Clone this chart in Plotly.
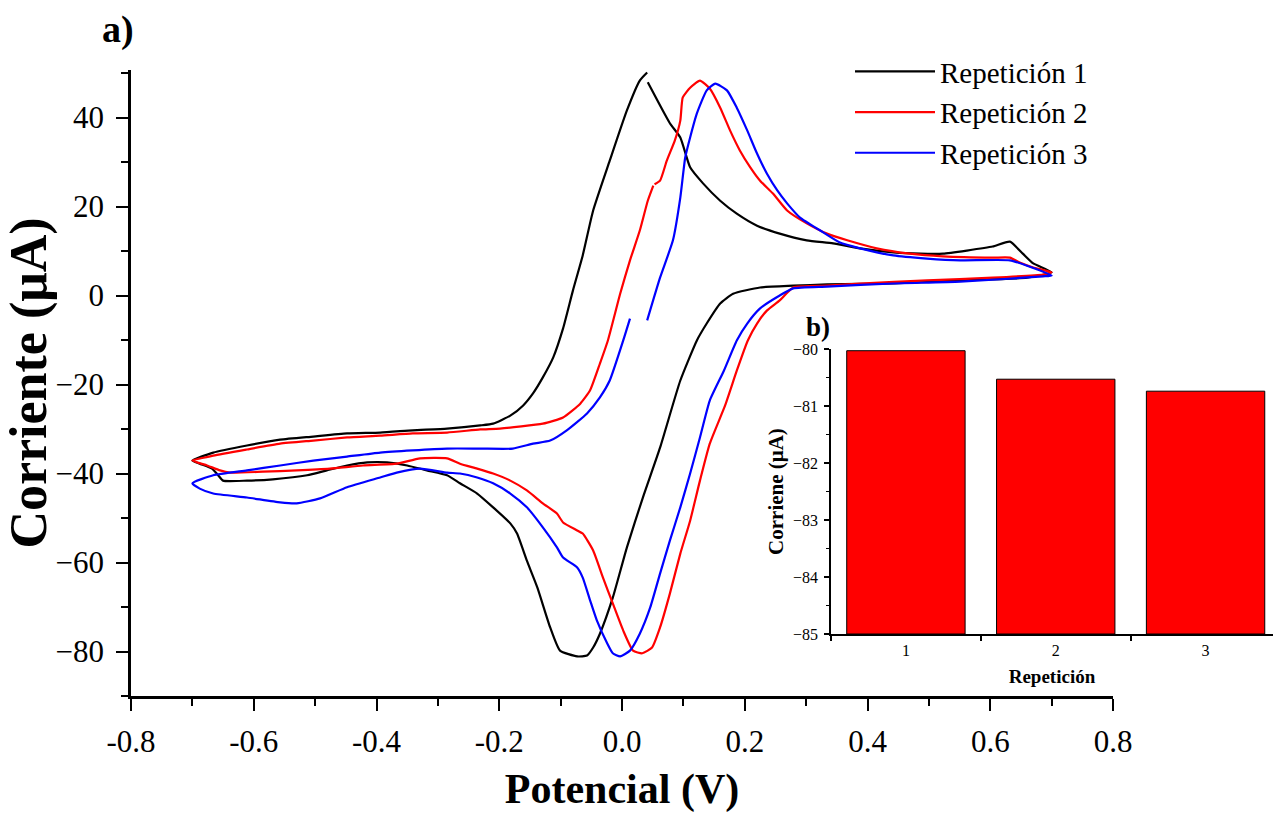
import plotly.graph_objects as go

# ---------------- data ----------------
V_rep1 = [0.042, 0.078, 0.095, 0.111, 0.132, 0.160, 0.187, 0.220, 0.257, 0.301, 0.344, 0.388, 0.442,
          0.486, 0.523, 0.562, 0.604, 0.632, 0.653, 0.670, 0.700,
          0.660, 0.551, 0.442, 0.334, 0.279, 0.225, 0.181, 0.160, 0.138, 0.122, 0.095, 0.062, 0.034,
          0.008, -0.015, -0.036, -0.047, -0.057, -0.073, -0.101, -0.117, -0.138, -0.155, -0.171,
          -0.182, -0.210, -0.236, -0.264, -0.285, -0.318, -0.350, -0.383, -0.415, -0.448, -0.481,
          -0.513, -0.569, -0.611, -0.650, -0.658, -0.668, -0.688, -0.700,
          -0.666, -0.611, -0.557, -0.503, -0.448, -0.394, -0.341, -0.285, -0.231, -0.210, -0.182,
          -0.161, -0.145, -0.129, -0.112, -0.096, -0.080, -0.064, -0.047, -0.020, 0.008, 0.029, 0.041]
I_rep1 = [47.9, 38.7, 35.5, 28.8, 25.2, 21.3, 18.4, 15.7, 13.9, 12.4, 11.7, 10.6, 9.7,
          9.4, 9.4, 10.1, 11.0, 12.1, 9.4, 7.2, 5.2,
          4.0, 3.4, 2.7, 2.5, 2.2, 1.8, 0.4, -1.8, -6.3, -10.1, -19.1, -34.2, -45.4,
          -56.6, -67.9, -76.0, -79.1, -80.9, -81.1, -79.8, -74.6, -65.6, -59.6, -53.5,
          -51.2, -47.6, -44.5, -42.2, -40.4, -39.3, -38.2, -37.5, -37.5, -38.2, -39.3,
          -40.4, -41.3, -41.6, -41.6, -40.4, -38.9, -37.8, -37.1,
          -35.3, -33.7, -32.4, -31.7, -31.0, -30.8, -30.3, -29.9, -29.2, -28.8, -27.0,
          -24.7, -22.0, -18.4, -13.9, -7.4, 1.1, 9.0, 19.1, 30.3, 41.6, 48.3, 50.1]

V_rep2 = [0.053, 0.062, 0.073, 0.086, 0.095, 0.099, 0.111, 0.127, 0.143, 0.160, 0.176, 0.192, 0.209, 0.225,
          0.246, 0.269, 0.301, 0.334, 0.367, 0.415, 0.469, 0.523, 0.604, 0.632, 0.648, 0.670, 0.700,
          0.686, 0.604, 0.497, 0.388, 0.334, 0.279, 0.257, 0.236, 0.220, 0.205, 0.187, 0.168, 0.143,
          0.127, 0.111, 0.095, 0.078, 0.062, 0.049, 0.033, 0.018, 0.002, -0.015, -0.031, -0.047,
          -0.064, -0.073, -0.096, -0.106, -0.129, -0.155, -0.182, -0.210, -0.236, -0.264, -0.285,
          -0.329, -0.367, -0.422, -0.476, -0.530, -0.585, -0.639, -0.655, -0.676, -0.700,
          -0.666, -0.611, -0.557, -0.503, -0.448, -0.394, -0.341, -0.285, -0.231, -0.199, -0.129,
          -0.096, -0.068, -0.052, -0.036, -0.023, -0.003, 0.013, 0.029, 0.042, 0.051]
I_rep2 = [25.0, 25.8, 30.3, 34.8, 39.3, 44.5, 46.7, 48.3, 46.5, 42.2, 37.1, 32.6, 28.8, 25.8,
          22.9, 19.1, 16.2, 13.9, 12.4, 10.6, 9.4, 8.8, 8.5, 8.5, 7.4, 6.3, 5.2,
          4.7, 4.0, 3.4, 2.7, 2.2, 1.8, -1.1, -3.4, -6.3, -10.1, -16.9, -24.7, -33.3,
          -41.6, -50.6, -58.0, -67.0, -74.6, -79.1, -80.4, -79.8, -75.3, -69.2, -63.4, -57.3,
          -53.5, -52.8, -51.0, -49.0, -46.7, -43.8, -41.6, -40.0, -38.9, -37.8, -36.6,
          -36.6, -37.8, -38.2, -38.9, -39.3, -39.6, -39.8, -39.3, -38.2, -37.1,
          -36.0, -34.6, -33.3, -32.6, -31.9, -31.5, -31.0, -30.8, -30.1, -29.9, -28.8,
          -27.4, -24.3, -21.3, -15.3, -10.1, 0.4, 7.9, 14.6, 21.3, 24.7]

V_rep3 = [0.041, 0.062, 0.083, 0.095, 0.103, 0.111, 0.122, 0.138, 0.152, 0.171, 0.187, 0.204, 0.220,
          0.236, 0.253, 0.269, 0.290, 0.323, 0.355, 0.388, 0.442, 0.497, 0.551, 0.632, 0.660, 0.700,
          0.686, 0.551, 0.442, 0.334, 0.279, 0.257, 0.225, 0.204, 0.187, 0.166, 0.143, 0.127, 0.111,
          0.095, 0.078, 0.062, 0.046, 0.029, 0.013, -0.003, -0.015, -0.024, -0.041, -0.052, -0.064,
          -0.073, -0.096, -0.106, -0.129, -0.155, -0.182, -0.210, -0.236, -0.264, -0.285, -0.329,
          -0.367, -0.394, -0.448, -0.492, -0.530, -0.557, -0.611, -0.666, -0.688, -0.700,
          -0.666, -0.611, -0.557, -0.503, -0.448, -0.394, -0.341, -0.285, -0.231, -0.178, -0.145,
          -0.117, -0.090, -0.057, -0.036, -0.020, 0.002, 0.013]
I_rep3 = [-5.6, 4.0, 12.4, 22.0, 31.0, 35.5, 40.9, 46.1, 47.6, 46.1, 42.2, 37.1, 31.9,
          27.4, 23.6, 20.7, 17.5, 14.6, 11.9, 10.6, 9.0, 8.3, 7.9, 7.9, 6.7, 4.5,
          4.3, 3.1, 2.7, 2.0, 1.6, 0.0, -2.9, -6.3, -10.1, -16.9, -23.6, -31.9, -40.0,
          -47.6, -55.1, -62.5, -70.1, -76.0, -79.8, -81.1, -80.4, -78.2, -73.0, -68.5, -63.4,
          -61.1, -58.9, -56.6, -52.1, -47.6, -44.5, -42.2, -40.9, -40.0, -39.8, -38.9,
          -39.8, -40.9, -43.1, -45.6, -46.7, -46.5, -45.4, -44.5, -43.4, -42.2,
          -40.4, -39.3, -38.2, -37.1, -36.2, -35.3, -34.8, -34.4, -34.4, -34.4, -33.3,
          -32.6, -30.3, -26.5, -22.9, -19.1, -10.1, -5.2]

series_names = ["Repetición 1", "Repetición 2", "Repetición 3"]
series_colors = ["#000000", "#ff0000", "#0000ff"]

repeticiones = [1, 2, 3]
corriente_pico = [-80.03, -80.53, -80.74]
BAR_BASE = -85

main_xticks = [-0.8, -0.6, -0.4, -0.2, 0.0, 0.2, 0.4, 0.6, 0.8]
main_yticks = [-80, -60, -40, -20, 0, 20, 40]
inset_yticks = [-85, -84, -83, -82, -81, -80]

# ---------------- layout geometry (pixels) ----------------
W, H = 1273, 813
ML, MT, MB = 131, 70, 117
PW = W - ML
PH = H - MT - MB
def fx(p):
    return (p - ML) / PW
def fy(p):
    return (H - MB - p) / PH

SERIF = "Liberation Serif, Times New Roman, serif"

fig = go.Figure()
for V, I, name, col in zip([V_rep1, V_rep2, V_rep3], [I_rep1, I_rep2, I_rep3], series_names, series_colors):
    fig.add_trace(go.Scatter(x=V, y=I, mode="lines", name=name, legendgroup=name,
                             line=dict(color=col, width=2.2, shape="spline", smoothing=0.5),
                             xaxis="x", yaxis="y"))

fig.add_trace(go.Bar(x=repeticiones, y=[v - BAR_BASE for v in corriente_pico], base=BAR_BASE,
                     width=0.79, marker=dict(color="#ff0000", line=dict(color="#000000", width=1)),
                     showlegend=False, xaxis="x2", yaxis="y2"))

axis_common = dict(showline=True, linecolor="black", mirror=False, showgrid=False, zeroline=False,
                   ticks="outside", tickcolor="black", automargin=False)

fig.update_layout(
    template="none",
    width=W, height=H, autosize=False,
    margin=dict(l=ML, r=0, t=MT, b=MB, pad=0, autoexpand=False),
    paper_bgcolor="white", plot_bgcolor="rgba(0,0,0,0)",
    font=dict(family=SERIF, color="black"),
    xaxis=dict(domain=[0, fx(1113)], range=[-0.8, 0.8], tickvals=main_xticks,
               ticktext=[f"{t:.1f}" for t in main_xticks], linewidth=2.5, tickwidth=2, ticklen=12,
               minor=dict(dtick=0.1, tick0=0, ticks="outside", ticklen=7, tickwidth=2, tickcolor="black"),
               tickfont=dict(size=31), ticklabelstandoff=4,
               title=dict(text="<b>Potencial (V)</b>", font=dict(size=42), standoff=20),
               anchor="y", **axis_common),
    yaxis=dict(domain=[0, 1], range=[-90, -90 + PH / 4.45], tickvals=main_yticks,
               linewidth=2.5, tickwidth=2, ticklen=12,
               minor=dict(dtick=10, tick0=0, ticks="outside", ticklen=7, tickwidth=2, tickcolor="black"),
               tickfont=dict(size=31), ticklabelstandoff=6,
               title=dict(text="<b>Corriente (μA)</b>", font=dict(size=52), standoff=14),
               anchor="x", **axis_common),
    xaxis2=dict(domain=[fx(831), 1], range=[0.5, 3.45], tickvals=repeticiones,
                ticks="", linewidth=1.5,
                minor=dict(tickvals=[0.5, 1.5, 2.5], ticks="outside", ticklen=5, tickwidth=1.5, tickcolor="black"),
                tickfont=dict(size=16), ticklabelstandoff=1,
                title=dict(text="<b>Repetición</b>", font=dict(size=19), standoff=12),
                anchor="y2", showline=True, linecolor="black", showgrid=False, zeroline=False,
                automargin=False),
    yaxis2=dict(domain=[fy(634), fy(349)], range=[-85, -80], tickvals=inset_yticks,
                linewidth=1.5, tickwidth=1.5, ticklen=5,
                minor=dict(dtick=0.5, tick0=-85, ticks="outside", ticklen=3, tickwidth=1.2, tickcolor="black"),
                tickfont=dict(size=16), ticklabelstandoff=3,
                title=dict(text="<b>Corriene (μA)</b>", font=dict(size=21), standoff=4),
                anchor="x2", **axis_common),
    legend=dict(x=fx(850), y=fy(46), xanchor="left", yanchor="top", bgcolor="rgba(0,0,0,0)",
                font=dict(size=29, family=SERIF), itemwidth=80, tracegroupgap=4,
                traceorder="normal"),
    showlegend=True,
    bargap=0.2,
    annotations=[
        dict(text="<b>a)</b>", x=fx(118), y=fy(29), xref="paper", yref="paper",
             showarrow=False, font=dict(size=38, family=SERIF), xanchor="center", yanchor="middle"),
        dict(text="<b>b)</b>", x=fx(818), y=fy(327), xref="paper", yref="paper",
             showarrow=False, font=dict(size=27, family=SERIF), xanchor="center", yanchor="middle"),
    ],
)

fig.write_html("out.html")
